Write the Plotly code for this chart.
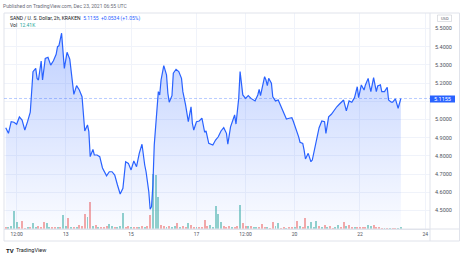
import plotly.graph_objects as go
import pandas as pd

# ---- data ----
price_hours = [4,6,8,10,12,14,16,18,20,22,
               24,26,27,28,30,31,33,35,37,39,
               41,42,43,45,47,49,51,52,54,56,
               58,60,61,62,64,65,66,68,69,71,
               73,75,78,80,82,84,86,88,90,92,
               94,96,98,100,102,104,106,107,109,110,
               111,112,113,115,116,117,118,120,122,123,
               124,126,127,129,131,133,134,136,138,140,
               141,142,144,146,148,150,151,153,156,158,
               160,162,164,166,167,169,171,172,173,175,
               176,177,178,180,182,184,187,189,190,191,
               193,194,195,196,197,199,200,202,204,205,
               207,209,210,212,214,215,217,219,220,222,
               223,224,226,228,229,231,233,234,236,238,
               239,241,243,245,247,249,251,252,254,256,
               258,260,262,263,265,267,268,270,271,272,
               274,276,277,279,280,282,284,285,287,288,
               290,292,294]
prices = [4.955,4.924,4.988,4.985,4.974,5.014,4.997,4.942,4.988,5.040,
          5.263,5.281,5.226,5.217,5.321,5.217,5.336,5.342,5.299,5.323,
          5.358,5.400,5.405,5.474,5.281,5.369,5.332,5.263,5.138,5.186,
          5.162,5.125,5.043,4.937,4.970,4.933,4.796,4.836,4.805,4.805,
          4.796,4.734,4.691,4.713,4.713,4.695,4.640,4.591,4.622,4.768,
          4.759,4.723,4.772,4.741,4.814,4.864,4.750,4.713,4.603,4.507,
          4.521,4.640,4.860,5.062,5.153,5.135,5.217,5.296,5.245,5.144,
          5.095,5.131,5.254,5.276,5.263,5.226,5.153,5.080,4.988,5.070,
          4.979,4.942,4.988,4.992,5.008,4.930,4.937,4.869,4.860,4.887,
          4.905,4.937,4.955,4.924,4.864,4.960,4.997,5.025,4.975,5.116,
          5.263,5.208,5.135,5.116,5.131,5.116,5.102,5.135,5.166,5.131,
          5.190,5.235,5.217,5.186,5.226,5.199,5.125,5.102,5.107,5.089,
          5.062,5.025,5.003,5.007,5.010,4.992,4.952,4.905,4.875,4.869,
          4.832,4.783,4.814,4.768,4.777,4.842,4.915,4.955,4.992,4.988,
          4.924,5.015,5.029,5.052,5.070,5.085,5.102,5.107,5.047,5.102,
          5.095,5.120,5.180,5.120,5.190,5.162,5.190,5.226,5.186,5.153,
          5.230,5.153,5.184,5.190,5.153,5.153,5.177,5.107,5.095,5.095,
          5.113,5.062,5.1155]

vol_hours = list(range(4, 296, 2))
volumes = [12,15,18,108,42,12,48,9,12,12,
           36,12,18,12,42,36,12,12,15,12,
           12,84,18,66,15,12,12,24,18,90,
           72,162,18,24,12,12,12,18,30,18,
           12,15,18,96,12,18,12,12,15,12,
           18,12,18,84,330,324,192,24,18,12,
           18,12,18,36,12,18,12,36,24,12,
           12,15,12,54,18,24,12,138,90,42,
           18,12,18,12,12,18,144,36,18,18,
           18,12,12,12,30,12,12,9,42,18,
           36,9,12,9,12,12,12,48,18,12,
           66,18,42,12,48,18,12,24,12,18,
           9,12,24,12,42,18,24,12,12,12,
           12,12,12,24,18,24,12,12,9,9,
           9,9,9,9,9,12.41]
vol_dir = list("duuuudddud"
               "uuddduuddu"
               "duudududdd"
               "udududdduu"
               "duuudduddu"
               "dudduuuddu"
               "duududdudd"
               "udddduuuuu"
               "dddudduddu"
               "duuddduddu"
               "udduddudud"
               "duuuududud"
               "duudduddud"
               "ddduuddddu"
               "dudduu")

x_tick_hours = [12, 48, 96, 144, 180, 216, 264, 312]
x_tick_text = ["12:00", "13", "15", "17", "12:00", "20", "22", "24"]
y_ticks = [4.5, 4.6, 4.7, 4.8, 4.9, 5.0, 5.1, 5.2, 5.3, 5.4, 5.5]
last_price = 5.1155

base = pd.Timestamp("2021-12-11")
def t(h):
    return base + pd.to_timedelta(h, unit="h")

W, H = 460, 257
L, R, T, B = 4, 430, 13, 229
def px(x):
    return (x - L) / (R - L)
def py(y):
    return (B - y) / (B - T)

font = "Roboto, 'Open Sans', sans-serif"
up_c = "rgba(38,166,154,0.5)"
dn_c = "rgba(239,83,80,0.5)"

fig = go.Figure()
fig.add_trace(go.Bar(
    x=[t(h) for h in vol_hours], y=volumes,
    marker=dict(color=[up_c if d == "u" else dn_c for d in vol_dir], line=dict(width=0)),
    width=2 * 3600 * 1000 * 0.72, yaxis="y", hoverinfo="skip"))
fig.add_trace(go.Scatter(
    x=[t(h) for h in price_hours], y=prices, yaxis="y2", mode="lines",
    line=dict(color="#2962ff", width=1.2),
    fill="tozeroy",
    fillgradient=dict(type="vertical",
                      colorscale=[[0, "rgba(41,98,255,0.02)"], [1, "rgba(41,98,255,0.30)"]],
                      start=4.4, stop=5.48),
    hoverinfo="skip"))

ytext = ["%.4f" % v if abs(v - 5.1) > 1e-9 else "" for v in y_ticks]

fig.update_layout(
    width=W, height=H,
    margin=dict(l=L, r=W - R, t=T, b=H - B),
    paper_bgcolor="white", plot_bgcolor="white",
    showlegend=False, bargap=0,
    font=dict(family=font, color="#50535e", size=5),
    xaxis=dict(type="date", range=[t(2.72), t(315.4)],
               tickvals=[t(h) for h in x_tick_hours], ticktext=x_tick_text,
               showgrid=True, gridcolor="#f0f3fa", gridwidth=1,
               showline=True, linecolor="#e0e3eb", linewidth=1,
               ticks="", tickfont=dict(size=5, color="#50535e"),
               zeroline=False, fixedrange=True),
    yaxis=dict(range=[0, 1296], visible=False, fixedrange=True),
    yaxis2=dict(overlaying="y", side="right", range=[4.3984, 5.5852],
                tickvals=y_ticks, ticktext=ytext,
                showgrid=True, gridcolor="#f0f3fa", gridwidth=1,
                ticks="", ticklabelstandoff=4,
                tickfont=dict(size=5.5, color="#50535e"),
                zeroline=False, showline=False, fixedrange=True),
)

shapes = [
    # outer frame
    dict(type="rect", xref="paper", yref="paper", x0=px(4), x1=px(459.5), y0=py(241), y1=py(13),
         line=dict(color="#e0e3eb", width=1), fillcolor="rgba(0,0,0,0)", layer="above"),
    # price axis separator
    dict(type="line", xref="paper", yref="paper", x0=1, x1=1, y0=py(241), y1=py(13),
         line=dict(color="#e0e3eb", width=1)),
    # bottom axis line extension
    dict(type="line", xref="paper", yref="paper", x0=0, x1=px(459.5), y0=0, y1=0,
         line=dict(color="#e0e3eb", width=1)),
    # last price dashed line
    dict(type="line", xref="paper", yref="y2", x0=0, x1=1, y0=last_price, y1=last_price,
         line=dict(color="rgba(41,98,255,0.32)", width=1, dash="3px,2px")),
    # last price label box
    dict(type="rect", xref="paper", yref="paper", x0=px(430), x1=px(455), y0=py(102.5), y1=py(95.5),
         line=dict(width=0), fillcolor="#2962ff", layer="above"),
    # USD box
    dict(type="rect", xref="paper", yref="paper", x0=px(437.5), x1=px(451.5), y0=py(21.5), y1=py(15),
         line=dict(color="#c9ccd4", width=0.6), fillcolor="white", layer="above"),
]
fig.update_layout(shapes=shapes)

ann = [
    dict(x=px(1), y=py(6), text="Published on TradingView.com, Dec 23, 2021 06:55 UTC",
         font=dict(size=5, color="#6a6d78"), xanchor="left"),
    dict(x=px(7.5), y=py(18.5),
         text="SAND / U. S. Dollar, 2h, KRAKEN  <span style='color:#2962ff'>5.1155  +0.0534 (+1.05%)</span>",
         font=dict(size=5, color="#131722"), xanchor="left"),
    dict(x=px(7.5), y=py(25.5), text="Vol  <span style='color:#26a69a'>12.41K</span>",
         font=dict(size=5, color="#131722"), xanchor="left"),
    dict(x=px(442.5), y=py(99), text="5.1155", font=dict(size=5.5, color="white"), xanchor="center"),
    dict(x=px(444.5), y=py(18.3), text="USD", font=dict(size=4, color="#50535e"), xanchor="center"),
    dict(x=px(3.5), y=py(250), text="<b>TV</b>", font=dict(size=6, color="#131722"), xanchor="left"),
    dict(x=px(14), y=py(250), text="TradingView", font=dict(size=5.5, color="#131722"), xanchor="left"),
]
for a in ann:
    a.update(xref="paper", yref="paper", yanchor="middle", showarrow=False)
fig.update_layout(annotations=ann)

fig.write_html("out.html")
